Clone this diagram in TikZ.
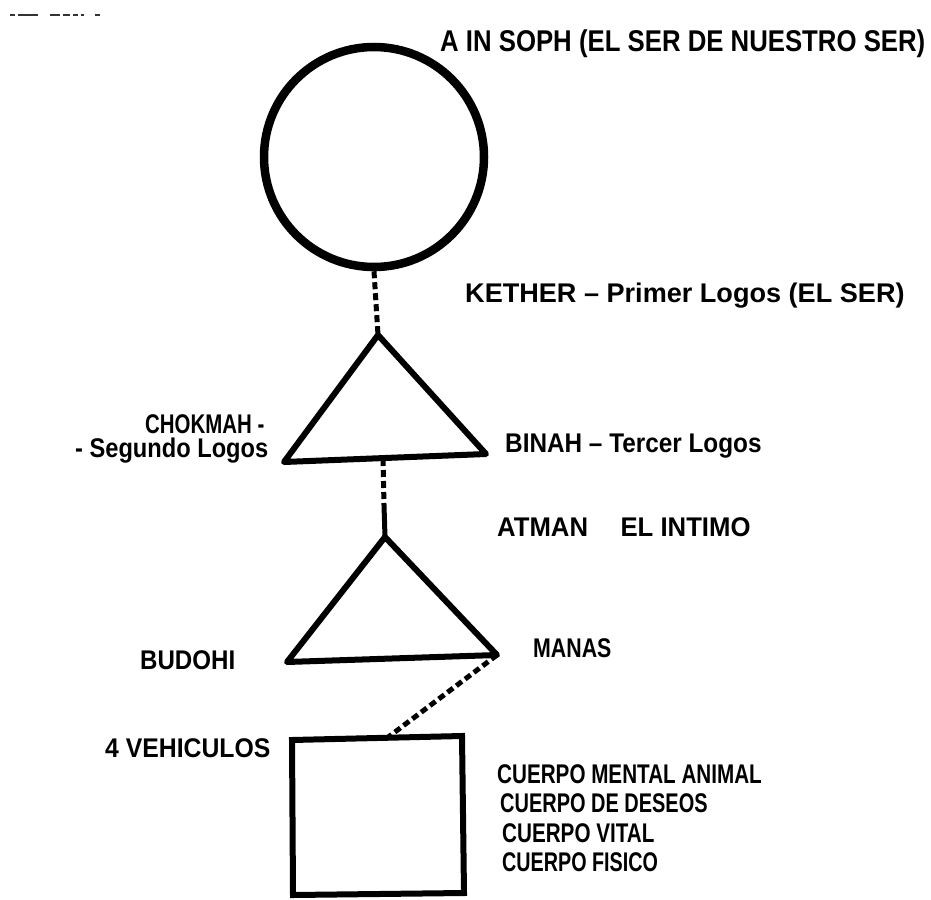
\documentclass[tikz,border=0pt]{standalone}
\usepackage{fontspec}
\usepackage{graphicx}
\setmainfont{Liberation Sans}[FakeStretch=0.85]
\newcommand\sx[2]{\scalebox{#1}[1]{#2}}
\begin{document}
\begin{tikzpicture}[x=1pt,y=-1pt,
  lbl/.style={anchor=west,inner sep=0pt,font=\fontsize{27}{30}\selectfont\bfseries},
  ttl/.style={anchor=west,inner sep=0pt,font=\fontsize{30}{33}\selectfont\bfseries},
  shapeline/.style={line width=6pt,line join=round,line cap=round},
  dashlink/.style={line width=5pt,dash pattern=on 7pt off 4pt},
  solidlink/.style={line width=5pt}]
\useasboundingbox (0,0) rectangle (931,899);
% scan artefact top left
\draw[line width=2pt,black!80] (10,15) -- (15,15) (18,15) -- (38,15) (50,15) -- (60,15) (63,15) -- (70,15) (73,15) -- (78,15) (81,15) -- (84,15) (95,15) -- (100,15);
% circle
\node[circle,draw,line width=8.5pt,minimum size=220pt,inner sep=0pt] (ain) at (374,157) {};
% triangle 1
\coordinate (k) at (378,335);
\coordinate (c) at (284,462);
\coordinate (b) at (486,454);
\draw[shapeline] (k) -- (c) -- (b) -- cycle;
% triangle 2
\coordinate (at) at (385,537);
\coordinate (bu) at (287,662);
\coordinate (ma) at (497,655);
\draw[shapeline] (at) -- (bu) -- (ma) -- cycle;
% box
\coordinate (b1) at (292,740);
\coordinate (b2) at (462,736);
\coordinate (b3) at (464,893);
\coordinate (b4) at (293,895);
\draw[shapeline,line cap=butt,line join=miter] (b1) -- (b2) -- (b3) -- (b4) -- cycle;
% connectors
\coordinate (t1base) at (383,459);
\coordinate (mid) at (384,505);
\coordinate (boxtop) at (387,738);
\draw[dashlink] (ain.south) -- (k);
\draw[dashlink] (t1base) -- (mid);
\draw[solidlink] (mid) -- (at);
\draw[dashlink] (ma) -- (boxtop);
% labels
\node[ttl] (t0) at (440,44) {\sx{1.01}{A IN SOPH (EL SER DE NUESTRO SER)}};
\node[lbl] (t1) at (465,296) {\sx{1.18}{KETHER – Primer Logos (EL SER)}};
\node[lbl] (t2) at (145,424) {\sx{0.89}{CHOKMAH -}};
\node[lbl] (t3) at (75,451) {\sx{1.03}{- Segundo Logos}};
\node[lbl] (t4) at (505,446) {\sx{1.06}{BINAH – Tercer Logos}};
\node[lbl] (t5) at (497,527) {\sx{1.12}{ATMAN\hspace{29pt}EL INTIMO}};
\node[lbl] (t6) at (140,660) {\sx{1.05}{BUDOHI}};
\node[lbl] (t7) at (533,648) {\sx{0.93}{MANAS}};
\node[lbl] (t8) at (105,748) {\sx{1.08}{4 VEHICULOS}};
\node[lbl] (t9) at (497,774) {\sx{0.9}{CUERPO MENTAL ANIMAL}};
\node[lbl] (t10) at (500,803) {\sx{0.87}{CUERPO DE DESEOS}};
\node[lbl] (t11) at (502,833) {\sx{0.9}{CUERPO VITAL}};
\node[lbl] (t12) at (502,862) {\sx{0.86}{CUERPO FISICO}};
\end{tikzpicture}
\end{document}
